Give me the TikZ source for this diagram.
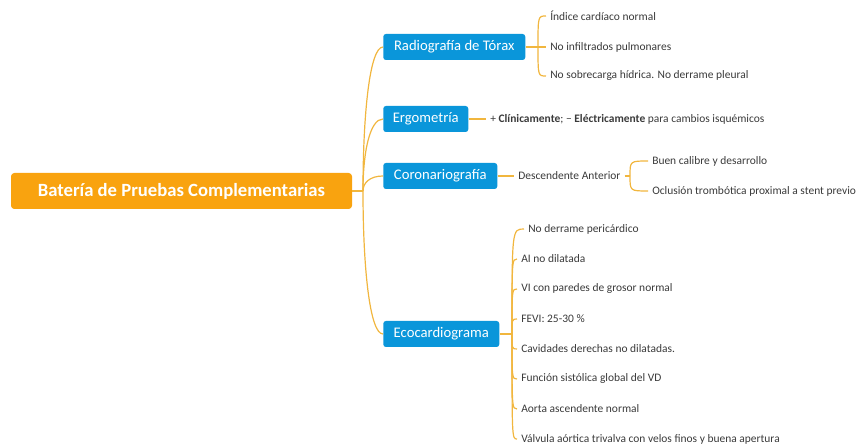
\documentclass[tikz,border=0pt]{standalone}
\usepackage{fontspec}
\setmainfont{Carlito}
\usetikzlibrary{calc,positioning}
\definecolor{rootorange}{HTML}{F9A30F}
\definecolor{topicblue}{HTML}{0A96DA}
\definecolor{linkgold}{HTML}{F1B63E}
\definecolor{leafgray}{HTML}{3A3A3A}
\tikzset{
  rootbox/.style={fill=rootorange,text=white,rounded corners=2.5pt,
    font=\bfseries\fontsize{14}{16}\selectfont,
    minimum width=255.75pt,minimum height=27pt,inner sep=0pt},
  topic/.style={fill=topicblue,text=white,rounded corners=2pt,anchor=west,
    font=\fontsize{11}{13}\selectfont,minimum height=19.5pt,inner sep=0pt},
  leaf/.style={anchor=west,text=leafgray,inner xsep=3pt,inner ysep=1pt,
    font=\fontsize{8.6}{10}\selectfont},
  link/.style={draw=linkgold,line width=0.9pt}
}
\begin{document}
\begin{tikzpicture}[x=0.75pt,y=-0.75pt]
\useasboundingbox (0,0) rectangle (865,445);
% main topic
\node[rootbox] (root) at (181.5,191) {Batería de Pruebas Complementarias};
\coordinate (hub) at (363,191);
% branches
\node[topic,minimum width=106.5pt] (radio) at (383,47) {Radiografía de Tórax};
\node[topic,minimum width=63.75pt] (ergo) at (383,119) {Ergometría};
\node[topic,minimum width=85.5pt] (coro) at (383,176) {Coronariografía};
\node[topic,minimum width=87pt] (eco) at (383,334) {Ecocardiograma};
\draw[link] (root.east) -- (hub);
\foreach \b in {radio,ergo,coro,eco}{
\draw[link] (hub) .. controls ($(hub)!0.55!(hub |- \b.west)$) and ($(\b.west)+(-13,0)$) .. (\b.west);
}
% Radiografia de Torax
\coordinate (radiohub) at (538,47);
\node[leaf] (radio1) at (546,16) {Índice cardíaco normal};
\node[leaf] (radio2) at (546,47) {No infiltrados pulmonares};
\node[leaf] (radio3) at (546,76) {No sobrecarga hídrica. No derrame pleural};
\draw[link] (radio.east) -- (radiohub);
\foreach \i in {1,2,3}{
\draw[link] (radiohub) .. controls (radiohub |- radio\i.west) .. (radio\i.west);
}
% Ergometria
\node[leaf] (ergo1) at (486,119) {+ \textbf{Clínicamente}; − \textbf{Eléctricamente} para cambios isquémicos};
\draw[link] (ergo.east) -- (ergo1.west);
% Coronariografia
\node[leaf] (coro1) at (514,176) {Descendente Anterior};
\coordinate (corohub) at (630,176);
\node[leaf] (coro2) at (648,161) {Buen calibre y desarrollo};
\node[leaf] (coro3) at (648,191) {Oclusión trombótica proximal a stent previo};
\draw[link] (coro.east) -- (coro1.west);
\draw[link] (coro1.east) -- (corohub);
\foreach \i in {2,3}{
\draw[link] (corohub) .. controls (corohub |- coro\i.west) .. (coro\i.west);
}
% Ecocardiograma
\coordinate (ecohub) at (512,334);
\draw[link] (eco.east) -- (ecohub);
\foreach \dx/\t [count=\i] in {7/No derrame pericárdico,0/AI no dilatada,
  0/VI con paredes de grosor normal,0/FEVI: 25-30 \%,
  0/Cavidades derechas no dilatadas.,0/Función sistólica global del VD,
  0/Aorta ascendente normal,0/Válvula aórtica trivalva con velos finos y buena apertura}{
\node[leaf] (eco\i) at ({517+\dx},{229+30*(\i-1)}) {\t};
\draw[link] (ecohub) .. controls (ecohub |- eco\i.west) .. (eco\i.west);
}
\end{tikzpicture}
\end{document}
